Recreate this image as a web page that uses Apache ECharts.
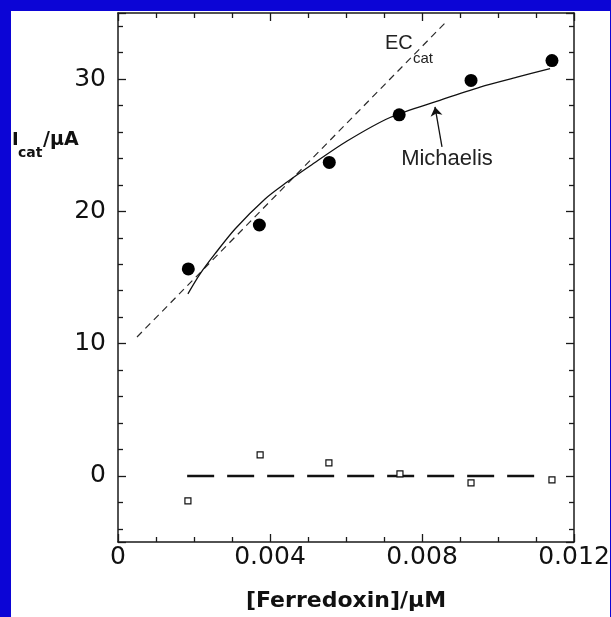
<!DOCTYPE html>
<html>
<head>
<meta charset="utf-8">
<script src="https://cdn.jsdelivr.net/npm/echarts@6/dist/echarts.min.js"></script>
<style>
  html, body { margin: 0; padding: 0; background: #0c05d6; width: 611px; height: 617px; overflow: hidden; }
  #chart { position: absolute; left: 11px; top: 11px; width: 599px; height: 606px; background: #ffffff; }
</style>
</head>
<body>
<div id="chart"></div>
<script>
// ---- data ----
const xTickLabels = ['0', '0.004', '0.008', '0.012'];
const yTickLabels = ['0', '10', '20', '30'];

const circleX = [0.00185, 0.00372, 0.00556, 0.00740, 0.00929, 0.01142];
const circleY = [15.65, 18.97, 23.7, 27.3, 29.9, 31.4];

const squareX = [0.00184, 0.00374, 0.00555, 0.00742, 0.00929, 0.01142];
const squareY = [-1.89, 1.59, 0.98, 0.15, -0.53, -0.30];

const michaelisX = [0.00184, 0.00216, 0.00255, 0.00308, 0.00387, 0.00445, 0.00505, 0.00603, 0.00716, 0.00847, 0.00953, 0.0105, 0.01137];
const michaelisY = [13.76, 15.27, 16.78, 18.67, 20.94, 22.22, 23.43, 25.32, 27.1, 28.4, 29.4, 30.15, 30.8];

const ecX = [0.0005, 0.00866];
const ecY = [10.5, 34.4];

const zeroX = [0.00182, 0.0111];
const zeroY = [0, 0];

const arrowFrom = [0.008526, 24.87];
const arrowTo = [0.008342, 27.9];
const michaelisLabelAt = [0.008658, 23.96];
const ecLabelAt = [0.007026, 32.7];
const ecSubLabelAt = [0.007763, 31.5];

function zip(a, b) { return a.map((v, i) => [v, b[i]]); }

const axisColor = '#1a1a1a';
const tickFont = 'DejaVu Sans';

function xAxisBase(pos) {
  return {
    type: 'value', position: pos, gridIndex: 0,
    min: 0, max: 0.012, interval: 0.004,
    axisLine: { show: true, onZero: false, lineStyle: { color: axisColor, width: 1.5 } },
    axisTick: { show: true, inside: true, length: 8, lineStyle: { color: axisColor, width: 1.3 } },
    minorTick: { show: true, splitNumber: 4, length: 5, lineStyle: { color: axisColor, width: 1.3 } },
    splitLine: { show: false }, minorSplitLine: { show: false }
  };
}
function yAxisBase(pos) {
  return {
    type: 'value', position: pos, gridIndex: 0,
    min: -5, max: 35, splitNumber: 4,
    axisLine: { show: true, onZero: false, lineStyle: { color: axisColor, width: 1.5 } },
    axisTick: { show: true, inside: true, length: 8, lineStyle: { color: axisColor, width: 1.3 } },
    minorTick: { show: true, splitNumber: 5, length: 5, lineStyle: { color: axisColor, width: 1.3 } },
    splitLine: { show: false }, minorSplitLine: { show: false }
  };
}

const xBottom = Object.assign(xAxisBase('bottom'), {
  axisLabel: {
    show: true, margin: 3, color: '#111', fontFamily: tickFont, fontSize: 25,
    formatter: function (v) {
      const i = Math.round(v / 0.004);
      return (Math.abs(v - i * 0.004) < 1e-9 && xTickLabels[i] !== undefined) ? xTickLabels[i] : '';
    }
  },
  name: '[Ferredoxin]/μM', nameLocation: 'middle', nameGap: 48,
  nameTextStyle: { fontFamily: 'DejaVu Sans', fontWeight: 'bold', fontSize: 22, color: '#111' }
});
const xTop = Object.assign(xAxisBase('top'), { axisLabel: { show: false } });
const yLeft = Object.assign(yAxisBase('left'), {
  axisLabel: {
    show: true, margin: 12, color: '#111', fontFamily: tickFont, fontSize: 25,
    formatter: function (v) {
      const i = Math.round(v / 10);
      return (Math.abs(v - i * 10) < 1e-9 && yTickLabels[i] !== undefined) ? yTickLabels[i] : '';
    }
  }
});
const yRight = Object.assign(yAxisBase('right'), { axisLabel: { show: false } });

const option = {
  animation: false,
  backgroundColor: '#ffffff',
  grid: { left: 107, right: 36, top: 2, bottom: 75, containLabel: false, outerBoundsMode: 'none' },
  xAxis: [xBottom, xTop],
  yAxis: [yLeft, yRight],
  series: [
    {
      name: 'ECcat', type: 'line', xAxisIndex: 0, yAxisIndex: 0,
      data: zip(ecX, ecY), showSymbol: false, symbol: 'none',
      lineStyle: { color: '#2a2a2a', width: 1.2, type: [7, 5] }, z: 2
    },
    {
      name: 'Michaelis', type: 'line', xAxisIndex: 0, yAxisIndex: 0,
      data: zip(michaelisX, michaelisY), showSymbol: false, symbol: 'none',
      smooth: 0.3,
      lineStyle: { color: '#111', width: 1.3 }, z: 3,
      markLine: {
        silent: true, animation: false,
        symbol: ['none', 'arrow'], symbolSize: 9,
        label: { show: false },
        lineStyle: { color: '#111', width: 1.3, type: 'solid' },
        data: [[{ coord: arrowFrom }, { coord: arrowTo }]]
      }
    },
    {
      name: 'zero', type: 'line', xAxisIndex: 0, yAxisIndex: 0,
      data: zip(zeroX, zeroY), showSymbol: false, symbol: 'none',
      lineStyle: { color: '#111', width: 2.5, type: [27, 13] }, z: 2
    },
    {
      name: 'Icat', type: 'scatter', xAxisIndex: 0, yAxisIndex: 0,
      data: zip(circleX, circleY), symbol: 'circle', symbolSize: 13,
      itemStyle: { color: '#000', opacity: 1 }, z: 4
    },
    {
      name: 'residual', type: 'scatter', xAxisIndex: 0, yAxisIndex: 0,
      data: zip(squareX, squareY), symbol: 'rect', symbolSize: 6,
      itemStyle: { color: '#fff', borderColor: '#111', borderWidth: 1.2, opacity: 1 }, z: 4
    }
  ]
};

const chart = echarts.init(document.getElementById('chart'), null, { renderer: 'canvas' });
chart.setOption(option);

function px(p) { return chart.convertToPixel({ xAxisIndex: 0, yAxisIndex: 0 }, p); }
const pM = px(michaelisLabelAt), pE = px(ecLabelAt), pEs = px(ecSubLabelAt);

chart.setOption({
  graphic: [
    { type: 'text', left: 1, top: 120, style: { text: 'I', font: 'bold 18px "DejaVu Sans"', fill: '#111' } },
    { type: 'text', left: 7, top: 135, style: { text: 'cat', font: 'bold 14px "DejaVu Sans"', fill: '#111' } },
    { type: 'text', left: 32, top: 120, style: { text: '/μA', font: 'bold 19px "DejaVu Sans"', fill: '#111' } },
    { type: 'text', x: pM[0], y: pM[1], style: { text: 'Michaelis', font: '22px "Liberation Sans"', fill: '#222', align: 'center', verticalAlign: 'middle' } },
    { type: 'text', x: pE[0], y: pE[1], style: { text: 'EC', font: '20px "Liberation Sans"', fill: '#222', align: 'left', verticalAlign: 'middle' } },
    { type: 'text', x: pEs[0], y: pEs[1], style: { text: 'cat', font: '15px "Liberation Sans"', fill: '#222', align: 'left', verticalAlign: 'middle' } }
  ]
});
</script>
</body>
</html>
